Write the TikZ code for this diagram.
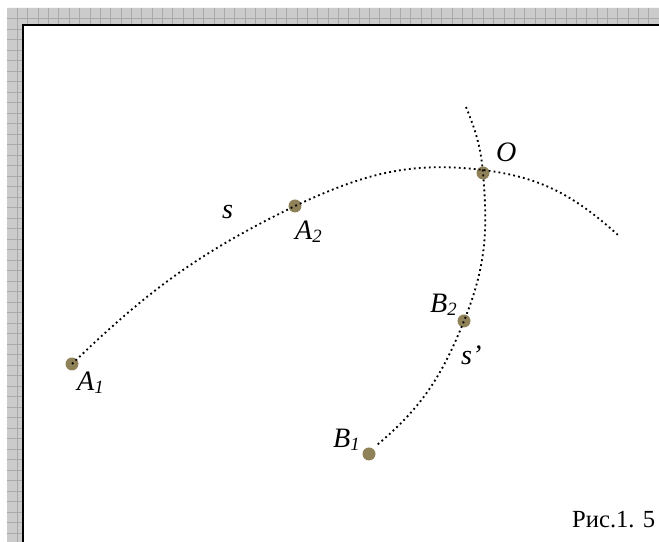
\documentclass[tikz,border=0pt]{standalone}
\usepackage{fontspec}
\setmainfont{Liberation Serif}
\usetikzlibrary{positioning}
\definecolor{bandgray}{HTML}{CBCBCB}
\definecolor{bandline}{HTML}{A9A9A9}
\definecolor{dotolive}{HTML}{8F8158}
\newcommand{\lowidx}[1]{\raisebox{-2.5pt}{\fontsize{16}{16}\selectfont #1}}
\tikzset{
  pointdot/.style={circle, fill=dotolive, minimum size=0.39cm, inner sep=0pt},
  track/.style={line width=0.055cm, dash pattern=on 0.055cm off 0.095cm, black},
  ptlabel/.style={anchor=base west, inner sep=0pt, font=\fontsize{24}{28}\selectfont\itshape},
  gridline/.style={draw=bandline, line width=0.5pt},
  frameline/.style={line width=0.06cm, black}
}

\begin{document}
\begin{tikzpicture}[x=0.03cm, y=0.03cm]
\useasboundingbox (0,0) rectangle (659,542);
% grey band
\fill[bandgray] (7,0) -- (7,534) -- (659,534) -- (659,517) -- (23,517) -- (23,0) -- cycle;
\begin{scope}
\clip (7,0) -- (7,534) -- (659,534) -- (659,517) -- (23,517) -- (23,0) -- cycle;
\foreach \i in {1,...,64} \draw[gridline] ({7+10.35*\i},0) -- ++(0,542);
\foreach \j in {1,...,52} \draw[gridline] (0,{534-10.5*\j}) -- ++(659,0);
\end{scope}
\draw[frameline] (23,0) |- (659,517);
% points
\node[pointdot] (A1) at (72,178) {};
\node[pointdot] (A2) at (295,336) {};
\node[pointdot] (O) at (483,369) {};
\node[pointdot] (B2) at (464,221) {};
\node[pointdot] (B1) at (369,88) {};
\coordinate (arcTop) at (483,372);
\coordinate (arcEnd) at (618,307);
\coordinate (bendTop) at (466,435);
\coordinate (bendEnd) at (377,97);
% curves
\draw[track] (A1.center) to[out=44, in=206] (A2.center) to[out=25, in=173] (arcTop) to[out=-7, in=138] (arcEnd);
\draw[track] (bendTop) to[out=-68, in=95] (O.center) to[out=-85, in=68] (B2.center) to[out=-112, in=40] (bendEnd);
% labels
\node[ptlabel] (lA1) at (77,151) {A\lowidx{1}};
\node[ptlabel] (lA2) at (295,302) {A\lowidx{2}};
\node[ptlabel] (lO) at (496,380) {O};
\node[ptlabel] (lB2) at (430,229) {B\lowidx{2}};
\node[ptlabel] (lB1) at (333,94) {B\lowidx{1}};
\node[ptlabel] (ls) at (222,323) {s};
\node[ptlabel] (ls2) at (461,177) {s'};
\node[anchor=base west, inner sep=0pt, font=\fontsize{21}{25}\selectfont] (cap) at (572,14) {Рис.1. 5};
\end{tikzpicture}
\end{document}
